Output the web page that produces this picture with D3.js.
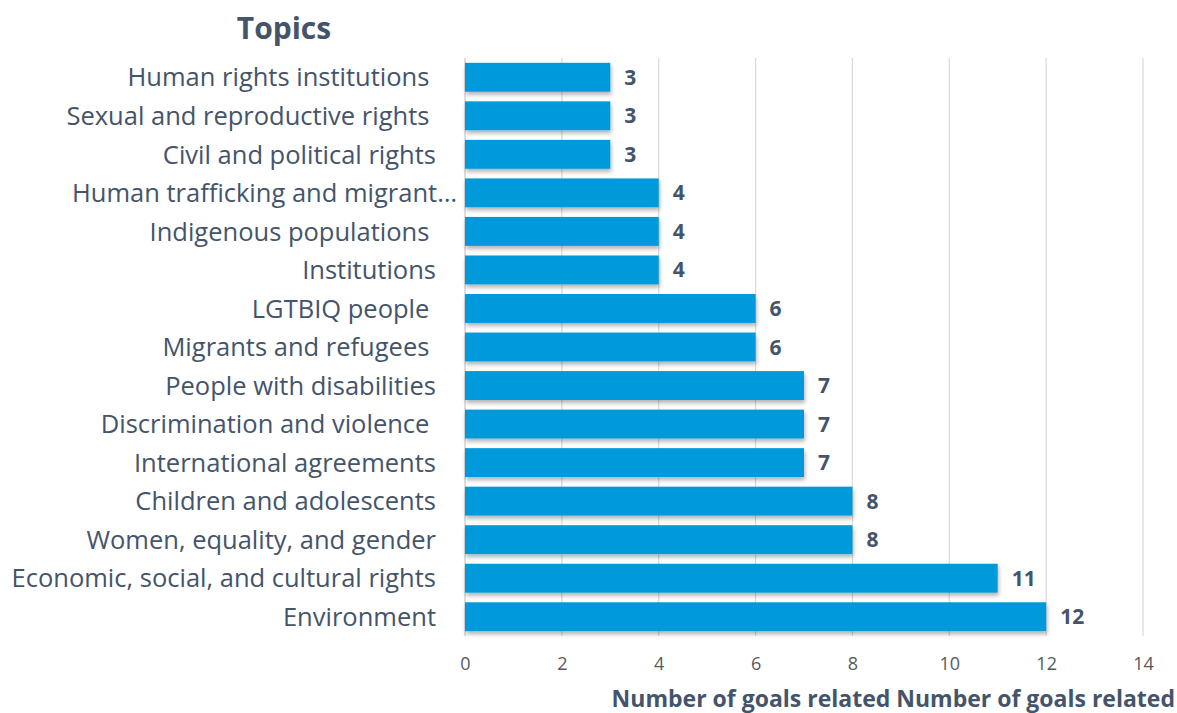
<!DOCTYPE html>
<html><head><meta charset="utf-8">
<script src="https://cdn.jsdelivr.net/npm/d3@7"></script>
<style>
body{margin:0;background:#fff;}
svg{display:block;}
text{font-family:"Open Sans", Lato, sans-serif;}
</style></head>
<body><svg id="c" width="1177" height="713"></svg>
<script>
const categories = [
  "Human rights institutions ",
  "Sexual and reproductive rights ",
  "Civil and political rights",
  "Human trafficking and migrant…",
  "Indigenous populations ",
  "Institutions",
  "LGTBIQ people ",
  "Migrants and refugees ",
  "People with disabilities",
  "Discrimination and violence ",
  "International agreements",
  "Children and adolescents",
  "Women, equality, and gender",
  "Economic, social, and cultural rights",
  "Environment"
];
const values = [3,3,3,4,4,4,6,6,7,7,7,8,8,11,12];
const xTicks = [0,2,4,6,8,10,12,14];
const titleText = "Topics";
const axisTitle = "Number of goals related Number of goals related";

const svg = d3.select("#c");
const margin = {left:465, right:34, top:58, bottom:77};
const W = 1177, H = 713;
const x = d3.scaleLinear().domain([0,14]).range([margin.left, W-margin.right]);
const y = d3.scaleBand().domain(categories).range([margin.top, H-margin.bottom]).paddingInner(0.25).paddingOuter(0.125);

const defs = svg.append("defs");
const f = defs.append("filter").attr("id","sh").attr("x","-5%").attr("y","-20%").attr("width","110%").attr("height","160%");
f.append("feDropShadow").attr("dx",1).attr("dy",3).attr("stdDeviation",2).attr("flood-color","#000").attr("flood-opacity",0.3);

svg.append("g").selectAll("line").data(xTicks).join("line")
  .attr("x1",d=>x(d)).attr("x2",d=>x(d))
  .attr("y1",margin.top).attr("y2",H-margin.bottom)
  .attr("stroke",d=>d===0?"#c8c8c8":"#d9d9d9").attr("stroke-width",1.2);

svg.append("g").selectAll("rect").data(values).join("rect")
  .attr("x",x(0)).attr("y",(d,i)=>y(categories[i]))
  .attr("width",d=>x(d)-x(0)).attr("height",y.bandwidth())
  .attr("fill","#009ADA").attr("filter","url(#sh)");

svg.append("g").selectAll("text").data(values).join("text")
  .attr("x",d=>x(d)+14).attr("y",(d,i)=>y(categories[i])+y.bandwidth()/2)
  .attr("dy","0.36em").attr("font-size",21).attr("font-weight","bold")
  .attr("fill","#44546A").text(d=>d);

svg.append("g").selectAll("text").data(categories).join("text")
  .attr("x",d=>d.endsWith("…")? x(0)-8 : x(0)-29)
  .attr("y",d=>y(d)+y.bandwidth()/2).attr("dy","0.36em")
  .attr("text-anchor","end").attr("font-size",25.5)
  .style("white-space","pre")
  .attr("fill","#44546A").text(d=>d);

const ax = svg.append("g").attr("transform",`translate(0,${H-margin.bottom})`)
  .call(d3.axisBottom(x).tickValues(xTicks).tickSize(0).tickPadding(21));
ax.select(".domain").remove();
ax.selectAll("text").attr("font-size",18).attr("fill","#595959").style("font-family","'Open Sans', Lato, sans-serif");

svg.append("text").attr("x",284).attr("y",39).attr("text-anchor","middle")
  .attr("font-size",30).attr("font-weight","bold").attr("fill","#44546A").text(titleText);
svg.append("text").attr("x",1175).attr("y",707).attr("text-anchor","end")
  .attr("font-size",23).attr("font-weight","bold").attr("fill","#44546A").text(axisTitle);
</script></body></html>
